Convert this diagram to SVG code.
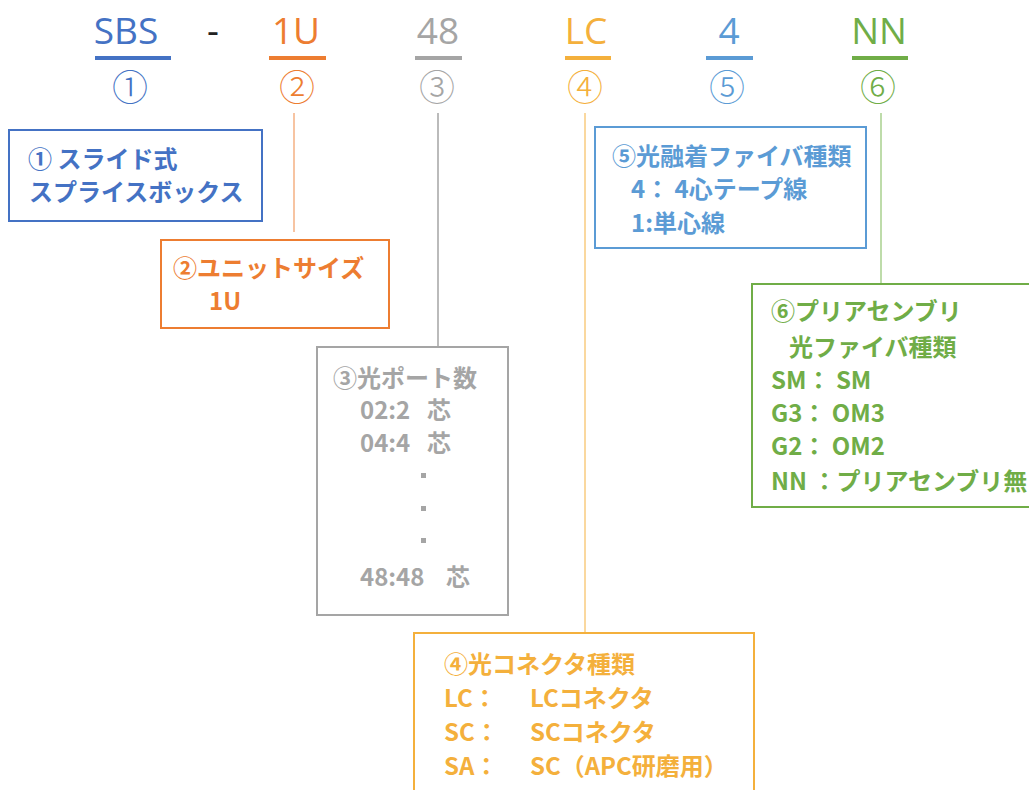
<svg xmlns="http://www.w3.org/2000/svg" width="1029" height="790" viewBox="0 0 1029 790">
<style>
.code{font-family:"Open Sans","Noto Sans",sans-serif;font-size:37px;text-anchor:middle}
.circ{font-family:"Noto Sans CJK JP",sans-serif;font-size:36px;text-anchor:middle;font-weight:300}
.t{font-family:"Noto Sans CJK JP","Noto Sans CJK SC",sans-serif;font-weight:bold;font-size:24px}
.box{fill:#fff;stroke-width:2}
.ln{stroke-width:1.5;fill:none}
.blue{fill:#4472C4}.orange{fill:#ED7D31}.gray{fill:#A5A5A5}.gold{fill:#F4B03C}.lblue{fill:#5B9BD5}.green{fill:#70AD47}
</style>
<rect width="1029" height="790" fill="#fff"/>
<g id="code">
<text class="code blue" x="126" y="44">SBS</text>
<text class="code" x="213" y="44" fill="#222">-</text>
<text class="code orange" x="296" y="44">1U</text>
<text class="code gray" x="438" y="44">48</text>
<text class="code gold" x="586" y="44">LC</text>
<text class="code lblue" x="729" y="44">4</text>
<text class="code green" x="879" y="44">NN</text>
<rect x="95" y="56" width="76" height="4" fill="#4472C4"/>
<rect x="269" y="56" width="57" height="4" fill="#ED7D31"/>
<rect x="415" y="56" width="47" height="4" fill="#A5A5A5"/>
<rect x="565" y="56" width="46" height="4" fill="#F4B03C"/>
<rect x="706" y="56" width="47" height="4" fill="#5B9BD5"/>
<rect x="852" y="56" width="56" height="4" fill="#70AD47"/>
<text class="circ blue" x="130" y="101">①</text>
<text class="circ orange" x="297" y="101">②</text>
<text class="circ gray" x="437" y="101">③</text>
<text class="circ gold" x="585" y="101">④</text>
<text class="circ lblue" x="727" y="101">⑤</text>
<text class="circ green" x="878" y="101">⑥</text>
</g>
<g id="connectors">
<line class="ln" x1="294" y1="113" x2="294" y2="232" stroke="#F4B183"/>
<line class="ln" x1="438" y1="113" x2="438" y2="347" stroke="#A5A5A5"/>
<line class="ln" x1="585" y1="113" x2="585" y2="633" stroke="#F8CB7F"/>
<line class="ln" x1="881" y1="113" x2="881" y2="284" stroke="#A9D18E"/>
</g>
<g id="box1">
<rect class="box" x="9" y="130" width="253" height="91" stroke="#4472C4"/>
<text class="t blue" x="28" y="168">① スライド式</text>
<text class="t blue" x="29" y="201">スプライスボックス</text>
</g>
<g id="box2">
<rect class="box" x="161" y="240" width="228" height="88" stroke="#ED7D31"/>
<text class="t orange" x="173" y="277">②ユニットサイズ</text>
<text class="t orange" x="209" y="310">1U</text>
</g>
<g id="box3">
<rect class="box" x="317" y="347" width="191" height="268" stroke="#A5A5A5"/>
<text class="t gray" x="333" y="387" font-size="25">③光ポート数</text>
<text class="t gray" x="360" y="419">02:2<tspan x="427">芯</tspan></text>
<text class="t gray" x="360" y="452">04:4<tspan x="427">芯</tspan></text>
<rect x="421" y="473" width="5" height="5" fill="#A5A5A5"/>
<rect x="421" y="506" width="5" height="5" fill="#A5A5A5"/>
<rect x="421" y="538" width="5" height="5" fill="#A5A5A5"/>
<text class="t gray" x="360" y="586">48:48<tspan x="446">芯</tspan></text>
</g>
<g id="box5">
<rect class="box" x="595" y="127" width="271" height="121" stroke="#5B9BD5"/>
<text class="t lblue" x="612" y="165">⑤光融着ファイバ種類</text>
<text class="t lblue" x="631" y="198">4： 4心テープ線</text>
<text class="t lblue" x="631" y="232">1:単心線</text>
</g>
<g id="box6">
<rect class="box" x="752" y="284" width="290" height="223" stroke="#70AD47"/>
<text class="t green" x="771" y="320">⑥プリアセンブリ</text>
<text class="t green" x="789" y="356">光ファイバ種類</text>
<text class="t green" x="771" y="389">SM： SM</text>
<text class="t green" x="771" y="422">G3： OM3</text>
<text class="t green" x="771" y="455">G2： OM2</text>
<text class="t green" x="771" y="490">NN ：プリアセンブリ無</text>
</g>
<g id="box4">
<rect class="box" x="414" y="633" width="340" height="170" stroke="#F4B03C"/>
<text class="t gold" x="444" y="673" font-size="25">④光コネクタ種類</text>
<text class="t gold" x="444" y="707" font-size="25">LC：</text>
<text class="t gold" x="530" y="707" font-size="25">LCコネクタ</text>
<text class="t gold" x="444" y="741" font-size="25">SC：</text>
<text class="t gold" x="530" y="741" font-size="25">SCコネクタ</text>
<text class="t gold" x="444" y="775" font-size="25">SA：</text>
<text class="t gold" x="530" y="775" font-size="25">SC（APC研磨用）</text>
</g>
</svg>
